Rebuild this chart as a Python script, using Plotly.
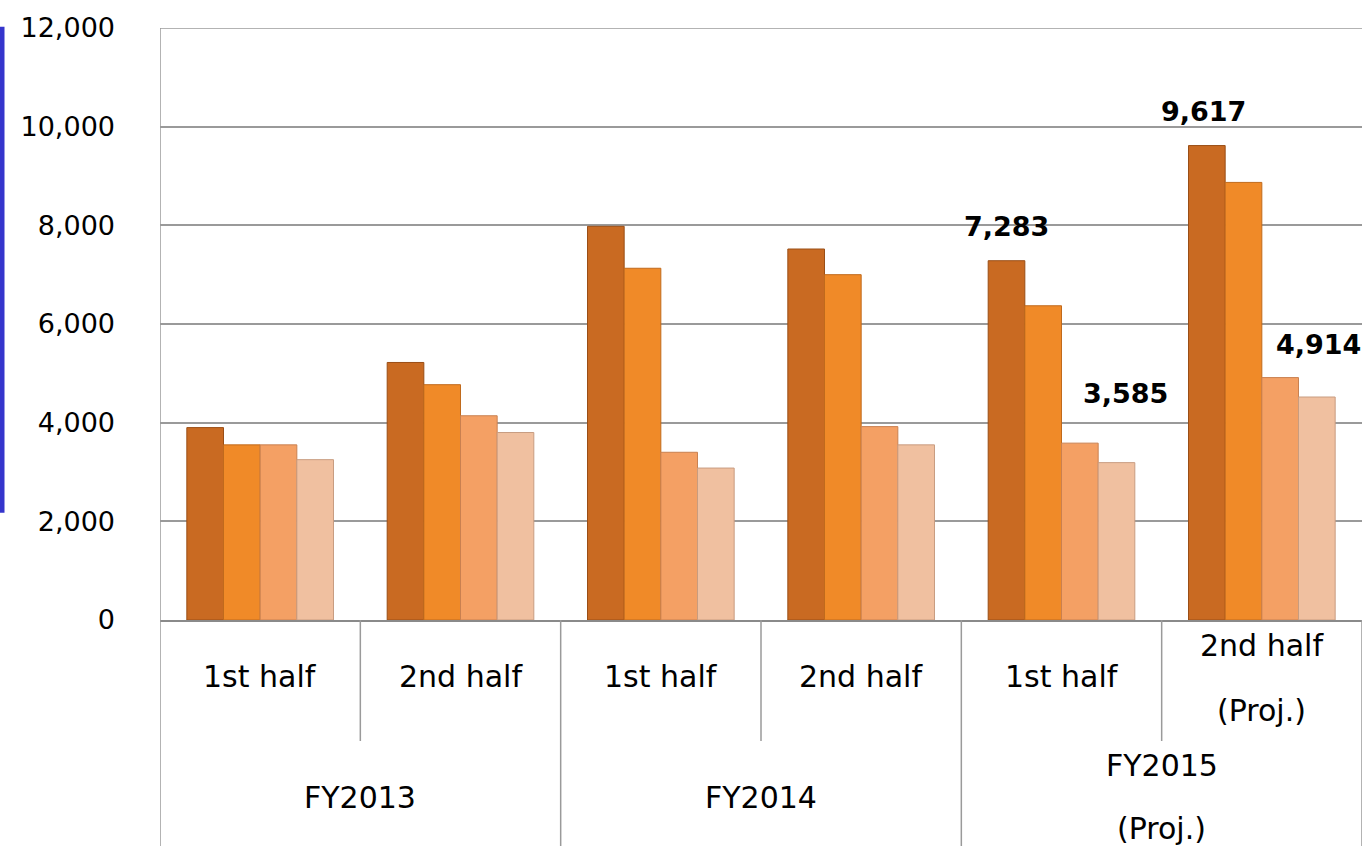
import plotly.graph_objects as go

# ---------------- data ----------------
fiscal_years = ["FY2013", "FY2014", "FY2015"]
fy_proj_note = ["", "", "(Proj.)"]
halves = ["1st half", "2nd half", "1st half", "2nd half", "1st half", "2nd half"]
half_proj_note = ["", "", "", "", "", "(Proj.)"]
period_keys = ["FY2013 H1", "FY2013 H2", "FY2014 H1", "FY2014 H2", "FY2015 H1", "FY2015 H2"]

series_names = ["Series 1", "Series 2", "Series 3", "Series 4"]
series_1 = [3900, 5220, 7980, 7520, 7283, 9617]
series_2 = [3550, 4770, 7130, 7000, 6370, 8870]
series_3 = [3550, 4140, 3400, 3920, 3585, 4914]
series_4 = [3250, 3800, 3080, 3550, 3190, 4520]

y_ticks = [0, 2000, 4000, 6000, 8000, 10000, 12000]

# labelled bars: (period index, series index)
labelled = [(4, 0), (5, 0), (4, 2), (5, 2)]

# ---------------- styling ----------------
W, H = 1366, 846
M_L, M_R, M_T, M_B = 160, 4, 28, 226
PLOT_H = H - M_T - M_B
PLOT_W = W - M_L - M_R
BARGAP = 0.268

colors = ["#C96A22", "#F08A28", "#F4A064", "#F0C0A0"]
edge = ["#9A4E16", "#C06A1C", "#C98050", "#C89C80"]
label_shift = {(4, 0): (0, 34), (5, 0): (-3, 34), (4, 2): (46, 50), (5, 2): (38, 33)}

GRID = "#9a9a9a"
FONT = "DejaVu Sans"


def py(p):
    """pixel row -> paper y"""
    return (H - M_B - p) / PLOT_H


def px(p):
    """pixel column -> paper x"""
    return (p - M_L) / PLOT_W


all_series = [series_1, series_2, series_3, series_4]

fig = go.Figure()
for name, vals, c, e in zip(series_names, all_series, colors, edge):
    fig.add_trace(go.Bar(
        x=list(range(len(period_keys))), y=vals, name=name,
        marker=dict(color=c, line=dict(color=e, width=1)),
        hoverinfo="y",
    ))

# value labels
n_series = len(all_series)
bw = (1 - BARGAP) / n_series
annotations = []
for gi, si in labelled:
    xc = gi - (1 - BARGAP) / 2 + (si + 0.5) * bw
    v = all_series[si][gi]
    dx, dy = label_shift[(gi, si)]
    annotations.append(dict(
        x=xc, y=v, xref="x", yref="y", text=f"{v:,}", showarrow=False,
        xanchor="center", yanchor="middle", xshift=dx, yshift=dy,
        font=dict(family=FONT, size=27, color="black", weight="bold"),
    ))

cat_font = dict(family=FONT, size=30, color="black")

# category labels (first row)
for i, (h, note) in enumerate(zip(halves, half_proj_note)):
    if note:
        annotations.append(dict(x=i, y=py(645.5), xref="x", yref="paper", text=h,
                                showarrow=False, yanchor="middle", font=cat_font))
        annotations.append(dict(x=i, y=py(710), xref="x", yref="paper", text=note,
                                showarrow=False, yanchor="middle", font=cat_font))
    else:
        annotations.append(dict(x=i, y=py(676), xref="x", yref="paper", text=h,
                                showarrow=False, yanchor="middle", font=cat_font))

# fiscal year labels (second row)
for j, (fy, note) in enumerate(zip(fiscal_years, fy_proj_note)):
    xc = 2 * j + 0.5
    if note:
        annotations.append(dict(x=xc, y=py(765), xref="x", yref="paper", text=fy,
                                showarrow=False, yanchor="middle", font=cat_font))
        annotations.append(dict(x=xc, y=py(828), xref="x", yref="paper", text=note,
                                showarrow=False, yanchor="middle", font=cat_font))
    else:
        annotations.append(dict(x=xc, y=py(797), xref="x", yref="paper", text=fy,
                                showarrow=False, yanchor="middle", font=cat_font))

# divider lines of the category table
shapes = []
line_style = dict(color=GRID, width=1.5)
n = len(period_keys)
for i in range(n - 1):
    b = i + 0.5
    if i % 2 == 0:  # between halves of same year
        shapes.append(dict(type="line", xref="x", yref="paper", x0=b, x1=b,
                           y0=0, y1=py(741), line=line_style))
    else:  # between years
        shapes.append(dict(type="line", xref="x", yref="paper", x0=b, x1=b,
                           y0=0, y1=py(H), line=line_style))
shapes.append(dict(type="line", xref="x", yref="paper", x0=-0.5, x1=-0.5,
                   y0=py(H), y1=1, line=line_style))
shapes.append(dict(type="line", xref="x", yref="paper", x0=n - 0.5, x1=n - 0.5,
                   y0=py(H), y1=0, line=line_style))
# top gridline (12,000) which plotly omits at the range edge
shapes.append(dict(type="line", xref="x", yref="y", x0=-0.5, x1=n - 0.5,
                   y0=y_ticks[-1], y1=y_ticks[-1], line=dict(color=GRID, width=1.5)))
# blue edge bar at far left
shapes.append(dict(type="rect", xref="paper", yref="paper",
                   x0=px(0), x1=px(4.5), y0=py(512.7), y1=py(26.7),
                   fillcolor="#3535CC", line=dict(width=0)))

fig.update_layout(
    width=W, height=H,
    margin=dict(l=M_L, r=M_R, t=M_T, b=M_B),
    paper_bgcolor="white", plot_bgcolor="white",
    barmode="group", bargap=BARGAP, bargroupgap=0,
    showlegend=False,
    annotations=annotations,
    shapes=shapes,
    xaxis=dict(range=[-0.5, n - 0.5], showticklabels=False, showgrid=False,
               zeroline=False, showline=True, linecolor="#8a8a8a", linewidth=2,
               ticks=""),
    yaxis=dict(range=[0, 12000], tickvals=y_ticks, tickformat=",d",
               showgrid=True, gridcolor=GRID, gridwidth=1.5,
               zeroline=False, showline=False, ticks="",
               ticklabelstandoff=44,
               tickfont=dict(family=FONT, size=27, color="black")),
)

fig.write_html(
    "out.html",
    config={"displayModeBar": False},
    post_script="document.body.style.margin='0';document.body.style.overflow='hidden';",
)
